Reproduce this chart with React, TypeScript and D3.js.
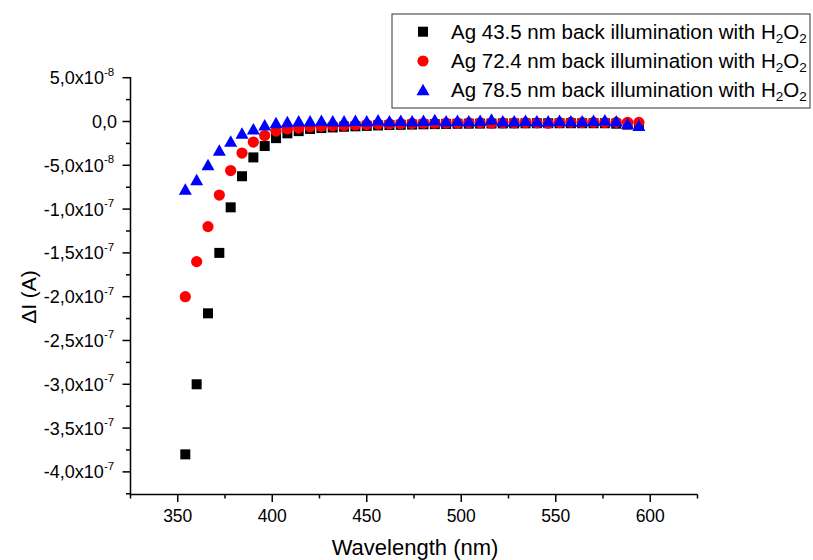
import React from "react";
import * as d3 from "d3";

const wavelengths = [354, 360, 366, 372, 378, 384, 390, 396, 402, 408, 414, 420, 426, 432, 438, 444, 450, 456, 462, 468, 474, 480, 486, 492, 498, 504, 510, 516, 522, 528, 534, 540, 546, 552, 558, 564, 570, 576, 582, 588, 594];

// values in units of 1e-8 A
const ag435 = [-38, -30, -21.9, -15, -9.8, -6.25, -4.1, -2.8, -1.9, -1.35, -1.1, -0.85, -0.75, -0.68, -0.6, -0.55, -0.5, -0.45, -0.4, -0.38, -0.35, -0.32, -0.3, -0.28, -0.26, -0.25, -0.24, -0.23, -0.22, -0.22, -0.21, -0.2, -0.2, -0.2, -0.2, -0.2, -0.2, -0.2, -0.25, -0.35, -0.4];
const ag724 = [-20, -16, -12, -8.4, -5.6, -3.6, -2.35, -1.6, -1.1, -0.85, -0.75, -0.6, -0.55, -0.5, -0.45, -0.4, -0.35, -0.3, -0.28, -0.25, -0.22, -0.2, -0.2, -0.18, -0.18, -0.15, -0.15, -0.2, -0.15, -0.15, -0.12, -0.15, -0.2, -0.12, -0.1, -0.12, -0.1, -0.12, -0.1, -0.1, -0.1];
const ag785 = [-7.8, -6.7, -5.0, -3.35, -2.3, -1.4, -0.9, -0.45, -0.2, -0.1, 0, 0, 0.05, 0, 0, 0.05, 0, 0.1, 0, 0.05, 0, 0.05, 0.15, 0, 0.05, 0, 0.05, 0.2, 0, 0, 0.05, 0, 0, 0.05, 0, 0, 0.05, 0.1, 0, -0.3, -0.5];

const seriesNames = ["Ag 43.5 nm back illumination with H", "Ag 72.4 nm back illumination with H", "Ag 78.5 nm back illumination with H"];
const seriesColors = ["#000000", "#ff0000", "#0000ff"];

const xMajorTicks = [350, 400, 450, 500, 550, 600];
const xMinorTicks = [325, 375, 425, 475, 525, 575, 625];
const yMajorTicks = [5e-8, 0, -5e-8, -1e-7, -1.5e-7, -2e-7, -2.5e-7, -3e-7, -3.5e-7, -4e-7];
const yMinorTicks = [2.5e-8, -2.5e-8, -7.5e-8, -1.25e-7, -1.75e-7, -2.25e-7, -2.75e-7, -3.25e-7, -3.75e-7, -4.25e-7];

const FONT = "Arial, 'Liberation Sans', sans-serif";

function fmt(v: number) {
  if (v === 0) return { m: "0,0", e: null as string | null };
  const e = Math.floor(Math.log10(Math.abs(v)) + 1e-9);
  const m = v / Math.pow(10, e);
  return { m: m.toFixed(1).replace(".", ",") + "x10", e: String(e) };
}

function Marker({ kind, x, y, color }: { kind: number; x: number; y: number; color: string }) {
  if (kind === 0) return <rect x={x - 5} y={y - 5} width={10} height={10} fill={color} />;
  if (kind === 1) return <circle cx={x} cy={y} r={5.6} fill={color} />;
  return <path d={`M${x},${y - 6.5}L${x + 6.5},${y + 5}L${x - 6.5},${y + 5}Z`} fill={color} />;
}

export default function App() {
  const x = d3.scaleLinear().domain([325, 625]).range([130.5, 697.5]);
  const y = d3.scaleLinear().domain([-4.264e-7, 5e-8]).range([495, 77.7]);
  const data = [ag435, ag724, ag785];

  return (
    <svg width={813} height={560} style={{ position: "fixed", left: 0, top: 0, background: "#fff" }} fontFamily={FONT}>
      <rect width={813} height={560} fill="#fff" />
      {/* axes */}
      <line x1={130.5} x2={697.5} y1={494.5} y2={494.5} stroke="#000" strokeWidth={1.5} />
      <line x1={130.5} x2={130.5} y1={77} y2={495.2} stroke="#000" strokeWidth={1.5} />
      {xMajorTicks.map((t) => (
        <g key={"xm" + t}>
          <line x1={x(t)} x2={x(t)} y1={494.5} y2={502} stroke="#000" strokeWidth={1.5} />
          <text x={x(t)} y={522} fontSize={17.5} textAnchor="middle">{t}</text>
        </g>
      ))}
      {xMinorTicks.map((t) => (
        <line key={"xn" + t} x1={x(t)} x2={x(t)} y1={494.5} y2={498.5} stroke="#000" strokeWidth={1.5} />
      ))}
      {yMajorTicks.map((t) => {
        const f = fmt(t);
        return (
          <g key={"ym" + t}>
            <line x1={122.5} x2={130.5} y1={y(t)} y2={y(t)} stroke="#000" strokeWidth={1.5} />
            <text x={f.e ? 116.5 - (f.e.length * 6.3) : 117} y={y(t) + 6.5} fontSize={18} textAnchor="end">{f.m}</text>
            {f.e && (
              <text x={116.5 - f.e.length * 6.3} y={y(t) - 2} fontSize={11.5} textAnchor="start">{f.e}</text>
            )}
          </g>
        );
      })}
      {yMinorTicks.map((t) => (
        <line key={"yn" + t} x1={126} x2={130.5} y1={y(t)} y2={y(t)} stroke="#000" strokeWidth={1.5} />
      ))}
      <text x={415} y={555} fontSize={22} textAnchor="middle">Wavelength (nm)</text>
      <text transform="translate(36,297) rotate(-90)" fontSize={21} textAnchor="middle">ΔI (A)</text>

      {/* data */}
      {data.map((s, k) => (
        <g key={"s" + k}>
          {s.map((v, i) => (
            <Marker key={i} kind={k} x={x(wavelengths[i])} y={y(v * 1e-8)} color={seriesColors[k]} />
          ))}
        </g>
      ))}

      {/* legend */}
      <rect x={392} y={14} width={418} height={94} fill="#fff" stroke="#333" strokeWidth={1} />
      {seriesNames.map((n, k) => {
        const cy = 31.7 + k * 29.3;
        return (
          <g key={"l" + k}>
            <Marker kind={k} x={423} y={cy} color={seriesColors[k]} />
            <text x={451} y={cy + 7} fontSize={20.5}>
              {n}
              <tspan fontSize={13.5} dy={4}>2</tspan>
              <tspan dy={-4}>O</tspan>
              <tspan fontSize={13.5} dy={4}>2</tspan>
            </text>
          </g>
        );
      })}
    </svg>
  );
}
